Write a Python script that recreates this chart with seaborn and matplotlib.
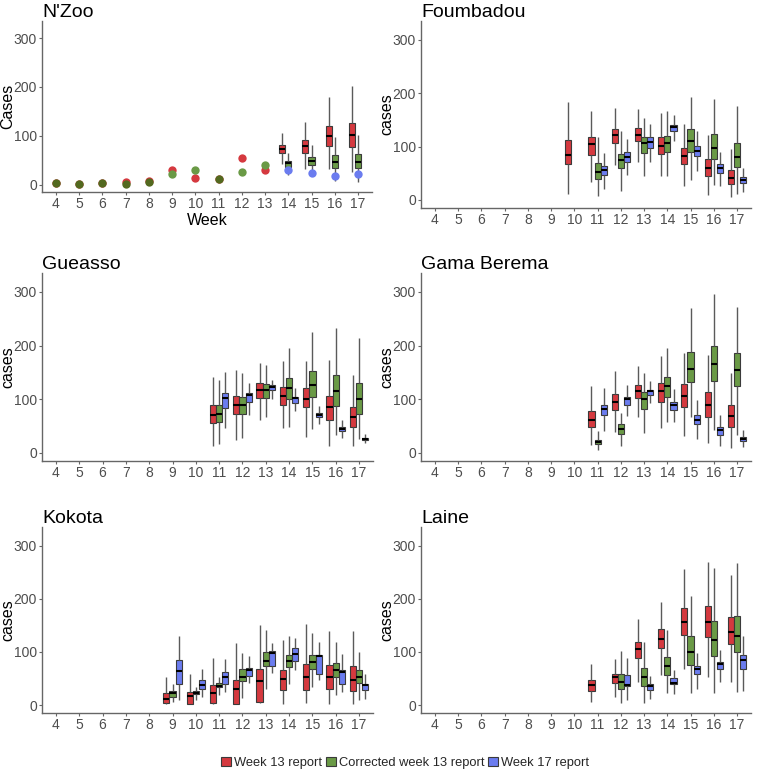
import numpy as np
import pandas as pd
import matplotlib
matplotlib.use("Agg")
import matplotlib.pyplot as plt
from matplotlib.patches import Patch
import seaborn as sns

# ---------------- data ----------------
WEEKS = list(range(4, 18))
SERIES = ["Week 13 report", "Corrected week 13 report", "Week 17 report"]

# N'Zoo point estimates
nzoo_point_weeks = [4, 5, 6, 7, 8, 9, 10, 11, 12, 13]
nzoo_pts_w13 = [3, 2, 3, 5, 8, 30, 14, 11, 54, 31]
nzoo_pts_corr = [3, 2, 3, 2, 5, 21, 30, 11, 25, 40]
nzoo_pts_w17_weeks = [14, 15, 16, 17]
nzoo_pts_w17 = [30, 24, 18, 22]

# box summaries: (week, lower whisker, q1, median, q3, upper whisker)
nzoo_w13 = [(14, 42, 64, 74, 81, 106), (15, 32, 64, 79, 91, 128),
            (16, 33, 80, 99, 121, 180), (17, 25, 77, 101, 126, 202)]
nzoo_corr = [(14, 20, 37, 44, 49, 64), (15, 22, 40, 49, 57, 81),
             (16, 8, 35, 47, 61, 97), (17, 6, 35, 46, 62, 101)]
nzoo_w17 = []

foum_w13 = [(10, 11, 67, 85, 113, 184), (11, 34, 84, 105, 117, 166),
            (12, 66, 106, 121, 133, 172), (13, 72, 110, 122, 134, 171),
            (14, 44, 86, 101, 118, 163), (15, 26, 67, 83, 98, 142),
            (16, 9, 45, 60, 77, 121), (17, 6, 29, 42, 56, 95)]
foum_corr = [(11, 7, 39, 52, 70, 118), (12, 17, 59, 74, 87, 129),
             (13, 45, 88, 107, 118, 154), (14, 44, 89, 106, 120, 166),
             (15, 37, 90, 110, 132, 192), (16, 28, 76, 98, 123, 189),
             (17, 11, 61, 81, 107, 175)]
foum_w17 = [(11, 21, 46, 56, 63, 88), (12, 46, 71, 81, 89, 114),
            (13, 72, 98, 109, 117, 143), (14, 110, 129, 136, 141, 159),
            (15, 55, 83, 92, 101, 129), (16, 27, 51, 59, 68, 90),
            (17, 15, 32, 37, 43, 60)]

guea_w13 = [(11, 13, 56, 71, 90, 142), (12, 24, 73, 89, 106, 155),
            (13, 62, 103, 117, 130, 168), (14, 46, 90, 106, 123, 172),
            (15, 30, 85, 101, 121, 172), (16, 13, 62, 85, 106, 173),
            (17, 13, 48, 66, 86, 145)]
guea_corr = [(11, 16, 58, 72, 89, 136), (12, 28, 73, 89, 104, 148),
             (13, 66, 103, 117, 128, 163), (14, 48, 101, 120, 140, 196),
             (15, 45, 105, 126, 153, 226), (16, 34, 88, 115, 145, 232),
             (17, 26, 73, 100, 130, 214)]
guea_w17 = [(11, 46, 83, 103, 111, 150), (12, 71, 95, 108, 112, 131),
            (13, 101, 117, 122, 127, 136), (14, 79, 93, 103, 105, 120),
            (15, 53, 66, 70, 74, 87), (16, 28, 40, 44, 49, 62),
            (17, 18, 24, 26, 28, 35)]

gama_w13 = [(11, 15, 48, 62, 79, 125), (12, 39, 80, 95, 110, 152),
            (13, 67, 103, 116, 126, 161), (14, 47, 95, 115, 130, 181),
            (15, 31, 86, 106, 128, 186), (16, 18, 66, 90, 113, 183),
            (17, 9, 49, 69, 90, 149)]
gama_corr = [(11, 6, 16, 21, 25, 40), (12, 13, 36, 44, 53, 75),
             (13, 38, 82, 101, 114, 148), (14, 58, 105, 125, 142, 195),
             (15, 67, 133, 157, 188, 269), (16, 42, 134, 166, 199, 295),
             (17, 34, 124, 154, 186, 272)]
gama_w17 = [(11, 41, 70, 81, 90, 120), (12, 68, 90, 100, 105, 126),
            (13, 93, 108, 115, 118, 134), (14, 58, 80, 90, 95, 119),
            (15, 26, 53, 61, 71, 98), (16, 13, 34, 42, 49, 70),
            (17, 11, 22, 26, 30, 43)]

koko_w13 = [(9, 1, 3, 12, 22, 52), (10, 1, 2, 17, 24, 58),
            (11, 1, 4, 23, 37, 88), (12, 1, 2, 30, 48, 116),
            (13, 3, 5, 46, 67, 150), (14, 2, 28, 49, 66, 123),
            (15, 3, 28, 53, 77, 152), (16, 2, 30, 53, 75, 139),
            (17, 1, 27, 48, 73, 139)]
koko_corr = [(9, 5, 16, 22, 26, 39), (10, 9, 20, 23, 26, 34),
             (11, 19, 33, 36, 41, 53), (12, 14, 45, 53, 67, 97),
             (13, 31, 73, 82, 100, 142), (14, 40, 71, 82, 94, 129),
             (15, 33, 68, 81, 95, 136), (16, 19, 53, 66, 80, 118),
             (17, 9, 41, 52, 66, 99)]
koko_w17 = [(9, 10, 40, 64, 84, 129), (10, 16, 31, 38, 47, 67),
            (11, 25, 40, 53, 63, 87), (12, 42, 55, 66, 69, 92),
            (13, 61, 73, 97, 101, 117), (14, 66, 82, 96, 108, 126),
            (15, 47, 59, 92, 94, 118), (16, 24, 39, 62, 66, 96),
            (17, 11, 28, 38, 40, 58)]

lain_w13 = [(11, 5, 26, 37, 48, 78), (12, 16, 42, 52, 59, 87),
            (13, 44, 88, 105, 118, 161), (14, 56, 108, 125, 144, 194),
            (15, 67, 132, 157, 183, 256), (16, 53, 128, 156, 186, 270),
            (17, 44, 114, 137, 166, 244)]
lain_corr = [(12, 3, 31, 44, 59, 101), (13, 3, 36, 52, 70, 118),
             (14, 22, 56, 73, 91, 141), (15, 22, 76, 100, 130, 206),
             (16, 22, 93, 122, 159, 257), (17, 25, 100, 130, 168, 268)]
lain_w17 = [(12, 9, 35, 38, 56, 88), (13, 11, 28, 36, 39, 54),
            (14, 21, 39, 42, 50, 66), (15, 31, 58, 67, 73, 98),
            (16, 44, 67, 78, 81, 103), (17, 26, 68, 84, 95, 129)]

PANELS = [
    ("N'Zoo", "Cases", nzoo_w13, nzoo_corr, nzoo_w17),
    ("Foumbadou", "cases", foum_w13, foum_corr, foum_w17),
    ("Gueasso", "cases", guea_w13, guea_corr, guea_w17),
    ("Gama Berema", "cases", gama_w13, gama_corr, gama_w17),
    ("Kokota", "cases", koko_w13, koko_corr, koko_w17),
    ("Laine", "cases", lain_w13, lain_corr, lain_w17),
]

# ---------------- style ----------------
COLORS = ["#d5393f", "#6a9a46", "#6b7cef"]
PALETTE = dict(zip(SERIES, COLORS))
OLIVE = "#53691f"

sns.set_theme(style="white")
plt.rcParams["font.family"] = ["Liberation Sans", "DejaVu Sans"]

fig = plt.figure(figsize=(7.57, 7.71), dpi=100)
W, H = 757, 771

# axes boxes in pixels: (left, top, right, bottom)
BOXES = [(42, 21, 372, 192), (421, 21, 751, 208),
         (42, 273, 373, 461), (421, 273, 751, 461),
         (42, 527, 373, 713), (421, 527, 751, 713)]


def to_long(rows, series):
    recs = []
    for r in rows:
        wk = r[0]
        for v in r[1:]:
            recs.append({"week": wk, "series": series, "cases": v})
    return recs


for (name, ylab, s13, scorr, s17), (l, t, r, b) in zip(PANELS, BOXES):
    ax = fig.add_axes([l / W, (H - b) / H, (r - l) / W, (b - t) / H])
    recs = to_long(s13, SERIES[0]) + to_long(scorr, SERIES[1]) + to_long(s17, SERIES[2])
    d = pd.DataFrame(recs)
    sns.boxplot(data=d, x="week", y="cases", hue="series", hue_order=SERIES,
                palette=PALETTE, saturation=1, native_scale=True, dodge=True,
                width=0.8, whis=(0, 100), linecolor="#3a3a3a", linewidth=0.8,
                showcaps=False, legend=False, ax=ax,
                medianprops=dict(color="black", linewidth=1.5),
                whiskerprops=dict(color="#5a5a5a", linewidth=1.0))

    if name == "N'Zoo":
        r13 = np.array(nzoo_pts_w13)
        rc = np.array(nzoo_pts_corr)
        wk = np.array(nzoo_point_weeks)
        near = np.abs(r13 - rc) <= 4
        sns.scatterplot(x=wk, y=r13, color=COLORS[0], s=36, linewidth=0,
                        ax=ax, zorder=3)
        sns.scatterplot(x=wk[~near], y=rc[~near], color=COLORS[1], s=36,
                        linewidth=0, ax=ax, zorder=4)
        sns.scatterplot(x=wk[near], y=rc[near], color=OLIVE, s=36,
                        linewidth=0, ax=ax, zorder=4)
        sns.scatterplot(x=nzoo_pts_w17_weeks, y=nzoo_pts_w17, color=COLORS[2],
                        s=36, linewidth=0, ax=ax, zorder=4)
        ax.set_xlabel("Week", fontsize=11.5, labelpad=1, color="black")
    else:
        ax.set_xlabel("")

    ax.set_xlim(3.4, 17.6)
    ax.set_ylim(-15, 335)
    ax.set_xticks(WEEKS)
    ax.set_xticklabels([str(w) for w in WEEKS])
    ax.set_yticks([0, 100, 200, 300])
    ax.set_ylabel(ylab, fontsize=11.5, color="black")
    ax.yaxis.set_label_coords(-27 / (r - l), 0.5)
    ax.set_title(name, loc="left", fontsize=14, pad=3, color="black")
    for sp in ["top", "right"]:
        ax.spines[sp].set_visible(False)
    for sp in ["left", "bottom"]:
        ax.spines[sp].set_color("#666666")
        ax.spines[sp].set_linewidth(1.0)
    ax.tick_params(axis="both", length=2.5, width=0.8, color="#666666",
                   labelcolor="#4d4d4d", labelsize=10, pad=1.2,
                   left=True, bottom=True)
    ax.grid(False)

handles = [Patch(facecolor=c, edgecolor="#3a3a3a", linewidth=0.8, label=s)
           for s, c in zip(SERIES, COLORS)]
fig.legend(handles=handles, loc="center", bbox_to_anchor=(0.535, 0.0104),
           ncol=3, frameon=False, fontsize=9.3, handlelength=0.8,
           handleheight=0.6, handletextpad=0.2, columnspacing=0.3)

fig.savefig("out.png", dpi=100)
